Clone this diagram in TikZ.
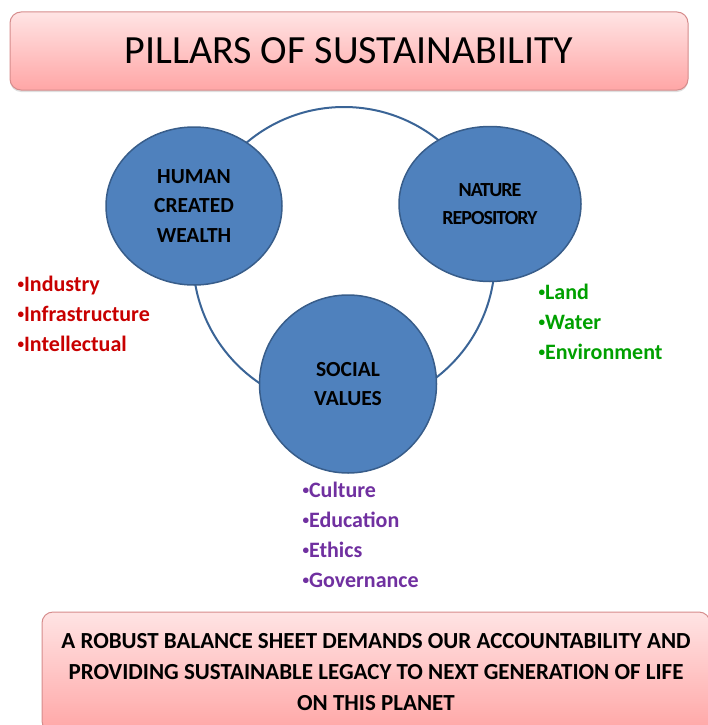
\documentclass[tikz,border=0pt]{standalone}
\usepackage{fontspec}
\setmainfont{Carlito}
\usetikzlibrary{shapes.geometric,shadows}

\definecolor{pillarblue}{RGB}{79,129,189}
\definecolor{pillarline}{RGB}{56,93,138}
\definecolor{ringblue}{RGB}{58,100,150}
\definecolor{boxtop}{RGB}{255,228,228}
\definecolor{boxbottom}{RGB}{255,166,166}
\definecolor{boxline}{RGB}{214,140,140}
\definecolor{listred}{RGB}{200,0,0}
\definecolor{listgreen}{RGB}{0,160,0}
\definecolor{listpurple}{RGB}{112,48,160}

% small raised bullet as in the lists
\newcommand{\pbul}{\raisebox{0.28ex}{\scalebox{0.6}{•}}}

\tikzset{every picture/.style={line width=1pt}}
\tikzset{
  banner/.style={rounded corners=11pt, top color=boxtop, bottom color=boxbottom,
    draw=boxline, line width=1pt, inner sep=0pt, align=center,
    drop shadow={shadow xshift=0pt, shadow yshift=-2pt, opacity=0.25}},
  pillar/.style={ellipse, fill=pillarblue, draw=pillarline, line width=1.5pt,
    inner sep=0pt, align=center, font=\fontsize{21.5}{29.5}\selectfont\bfseries},
  itemlist/.style={anchor=north west, inner sep=0pt, align=left,
    font=\fontsize{22}{30}\selectfont\bfseries}
}

\begin{document}
\begin{tikzpicture}[x=1pt,y=1pt,yscale=-1,xscale=1]
\useasboundingbox (0,0) rectangle (708,725);

%Shape: Rounded Rectangle (title)
\node[banner, minimum width=678, minimum height=78,
  font=\fontsize{40}{40}\selectfont] (title) at (349,51) {PILLARS OF SUSTAINABILITY};

%Shape: Circle (ring behind the pillars)
\coordinate (ringc) at (344,258);
\draw[ringblue, line width=2pt] (ringc) circle (151);

%Shape: Ellipse
\node[pillar, minimum width=176, minimum height=158] (human) at (194,206)
  {HUMAN\\CREATED\\WEALTH};
%Shape: Ellipse
\node[pillar, minimum width=182, minimum height=155,
  font=\fontsize{20}{28}\selectfont\bfseries\addfontfeatures{LetterSpace=-5}] (nature) at (490,204)
  {NATURE\\REPOSITORY};
%Shape: Ellipse
\node[pillar, minimum width=177, minimum height=178] (social) at (348,384)
  {SOCIAL\\VALUES};

% Text Node
\node[itemlist, text=listred] (humanlist) at (17,276)
  {\pbul Industry\\\pbul Infrastructure\\\pbul Intellectual};
% Text Node
\node[itemlist, text=listgreen] (naturelist) at (538,284)
  {\pbul Land\\\pbul Water\\\pbul Environment};
% Text Node
\node[itemlist, text=listpurple] (sociallist) at (302,482)
  {\pbul Culture\\\pbul Education\\\pbul Ethics\\\pbul Governance};

%Shape: Rounded Rectangle (closing statement)
\node[banner, minimum width=668, minimum height=120,
  font=\fontsize{23}{31}\selectfont\bfseries] (legacy) at (376,672)
  {A ROBUST BALANCE SHEET DEMANDS OUR ACCOUNTABILITY AND\\
   PROVIDING SUSTAINABLE LEGACY TO NEXT GENERATION OF LIFE\\
   ON THIS PLANET};

\end{tikzpicture}
\end{document}
